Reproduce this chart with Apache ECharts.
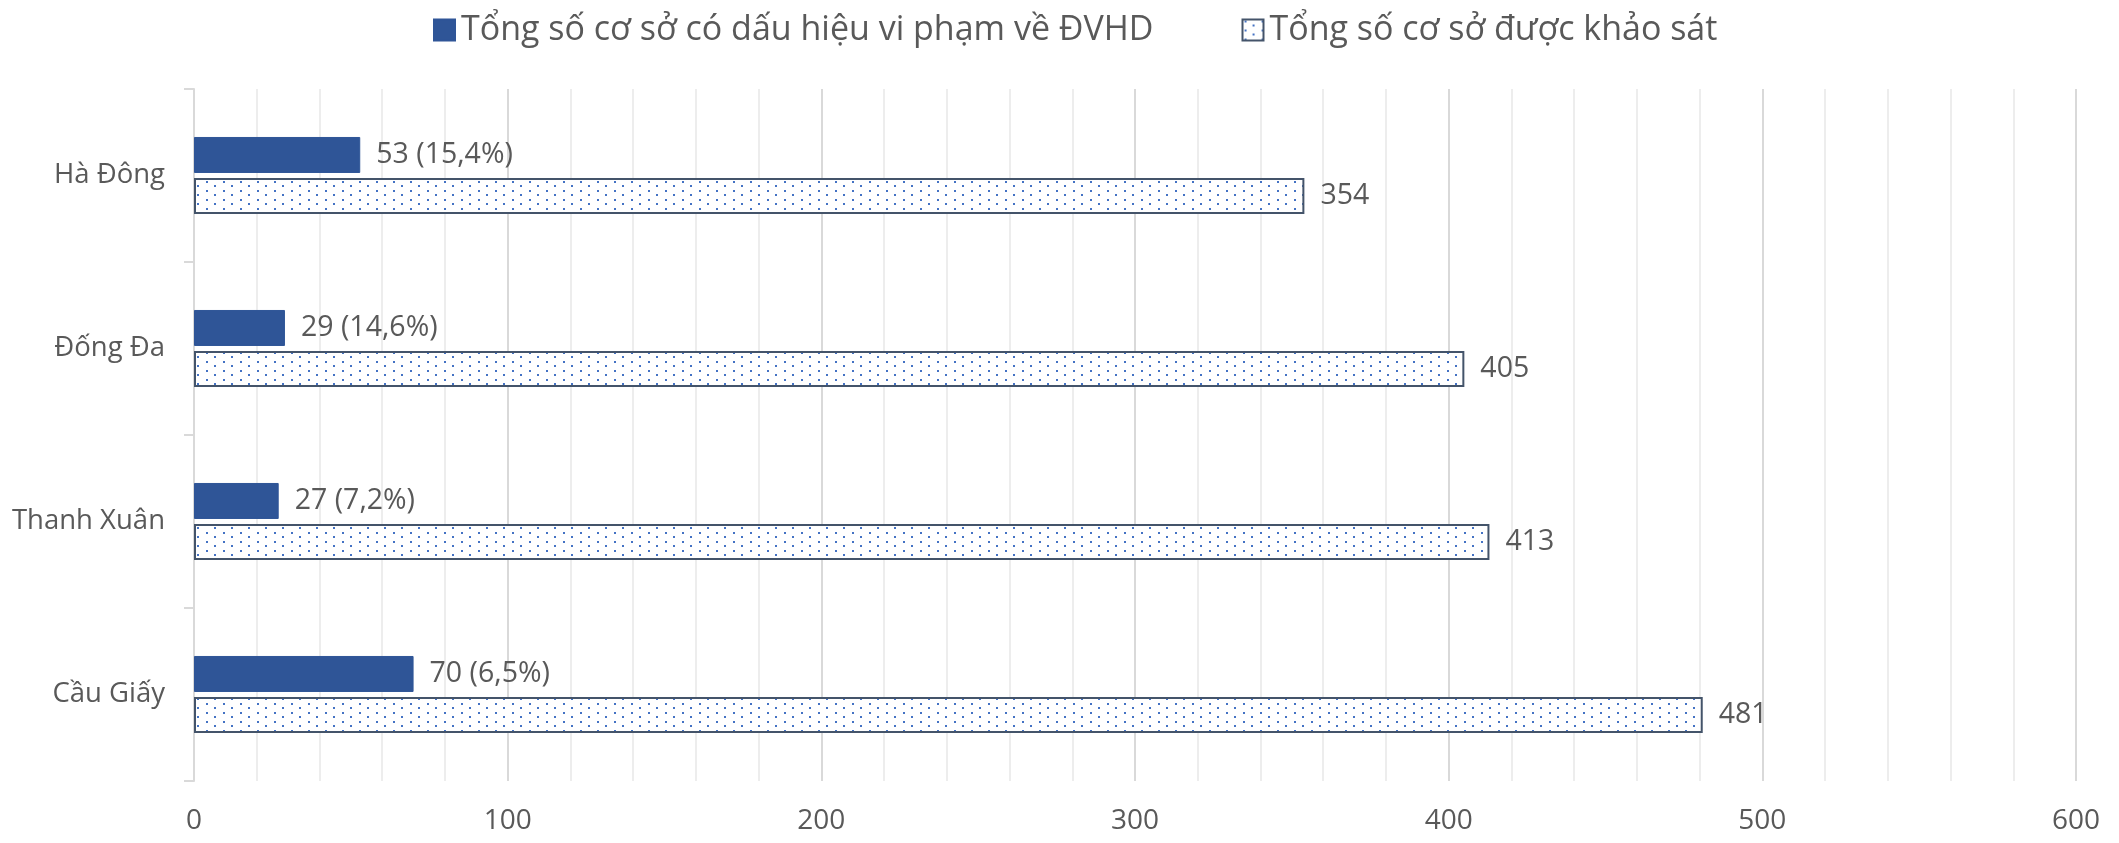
<!DOCTYPE html>
<html>
<head>
<meta charset="utf-8">
<script src="https://cdn.jsdelivr.net/npm/echarts@6/dist/echarts.min.js"></script>
<style>
html,body{margin:0;padding:0;background:#fff;}
#chart{width:2119px;height:843px;}
</style>
</head>
<body>
<div id="chart"></div>
<script>
// Categories listed top to bottom
const categories = ['Hà Đông', 'Đống Đa', 'Thanh Xuân', 'Cầu Giấy'];
const seriesNames = ['Tổng số cơ sở có dấu hiệu vi phạm về ĐVHD', 'Tổng số cơ sở được khảo sát'];
const violations = [53, 29, 27, 70];
const violationPct = ['15,4%', '14,6%', '7,2%', '6,5%'];
const surveyed = [354, 405, 413, 481];
const xTicks = [0, 100, 200, 300, 400, 500, 600];

const FONT = '"Open Sans", "Noto Sans", sans-serif';
const TEXT = '#595959';

function makePattern() {
  const c = document.createElement('canvas');
  c.width = 17; c.height = 9;
  const ctx = c.getContext('2d');
  ctx.fillStyle = '#ffffff';
  ctx.fillRect(0, 0, 17, 9);
  ctx.fillStyle = '#4472C4';
  ctx.fillRect(2, 1, 2, 2);
  ctx.fillRect(10, 5, 2, 2);
  return c;
}
const pattern = { image: makePattern(), repeat: 'repeat' };

const chart = echarts.init(document.getElementById('chart'), null, { renderer: 'canvas' });
chart.setOption({
  backgroundColor: '#ffffff',
  animation: false,
  textStyle: { fontFamily: FONT },
  legend: {
    top: 8,
    left: 428,
    icon: 'rect',
    itemWidth: 21,
    itemHeight: 21,
    itemGap: 88,
    textStyle: { fontSize: 34, color: TEXT, fontFamily: FONT, padding: [0, 0, 0, 1] },
    data: [
      { name: seriesNames[0], itemStyle: { color: '#2F5597' } },
      { name: seriesNames[1], itemStyle: { color: pattern, borderColor: '#44546A', borderWidth: 2 } }
    ]
  },
  grid: { left: 194, right: 43, top: 89, bottom: 62, containLabel: false },
  xAxis: {
    type: 'value',
    min: 0, max: 600, interval: 100,
    axisLine: { show: false },
    axisTick: { show: false },
    axisLabel: { fontSize: 28, color: TEXT, margin: 26, fontFamily: FONT,
      formatter: v => xTicks.includes(v) ? String(v) : '' },
    splitLine: { show: true, lineStyle: { color: '#D9D9D9', width: 2 } },
    minorTick: { show: false, splitNumber: 5 },
    minorSplitLine: { show: true, lineStyle: { color: '#EDEDED', width: 2 } }
  },
  yAxis: {
    type: 'category',
    inverse: true,
    data: categories,
    axisLine: { show: true, lineStyle: { color: '#D9D9D9', width: 2 } },
    axisTick: { show: true, length: 10, lineStyle: { color: '#D9D9D9', width: 2 } },
    axisLabel: { fontSize: 27.5, color: TEXT, margin: 29, fontFamily: FONT }
  },
  series: [
    {
      name: seriesNames[0],
      type: 'bar',
      data: violations,
      barWidth: 36,
      barGap: '14%',
      barCategoryGap: '55%',
      itemStyle: { color: '#2F5597', borderColor: '#2F5597', borderWidth: 1 },
      label: {
        show: true, position: 'right', distance: 16,
        fontSize: 28.5, color: TEXT, fontFamily: FONT,
        formatter: p => p.value + ' (' + violationPct[p.dataIndex] + ')'
      }
    },
    {
      name: seriesNames[1],
      type: 'bar',
      data: surveyed,
      barWidth: 36,
      barGap: '14%',
      itemStyle: { color: pattern, borderColor: '#44546A', borderWidth: 2 },
      label: {
        show: true, position: 'right', distance: 16,
        fontSize: 28.5, color: TEXT, fontFamily: FONT
      }
    }
  ]
});
</script>
</body>
</html>
